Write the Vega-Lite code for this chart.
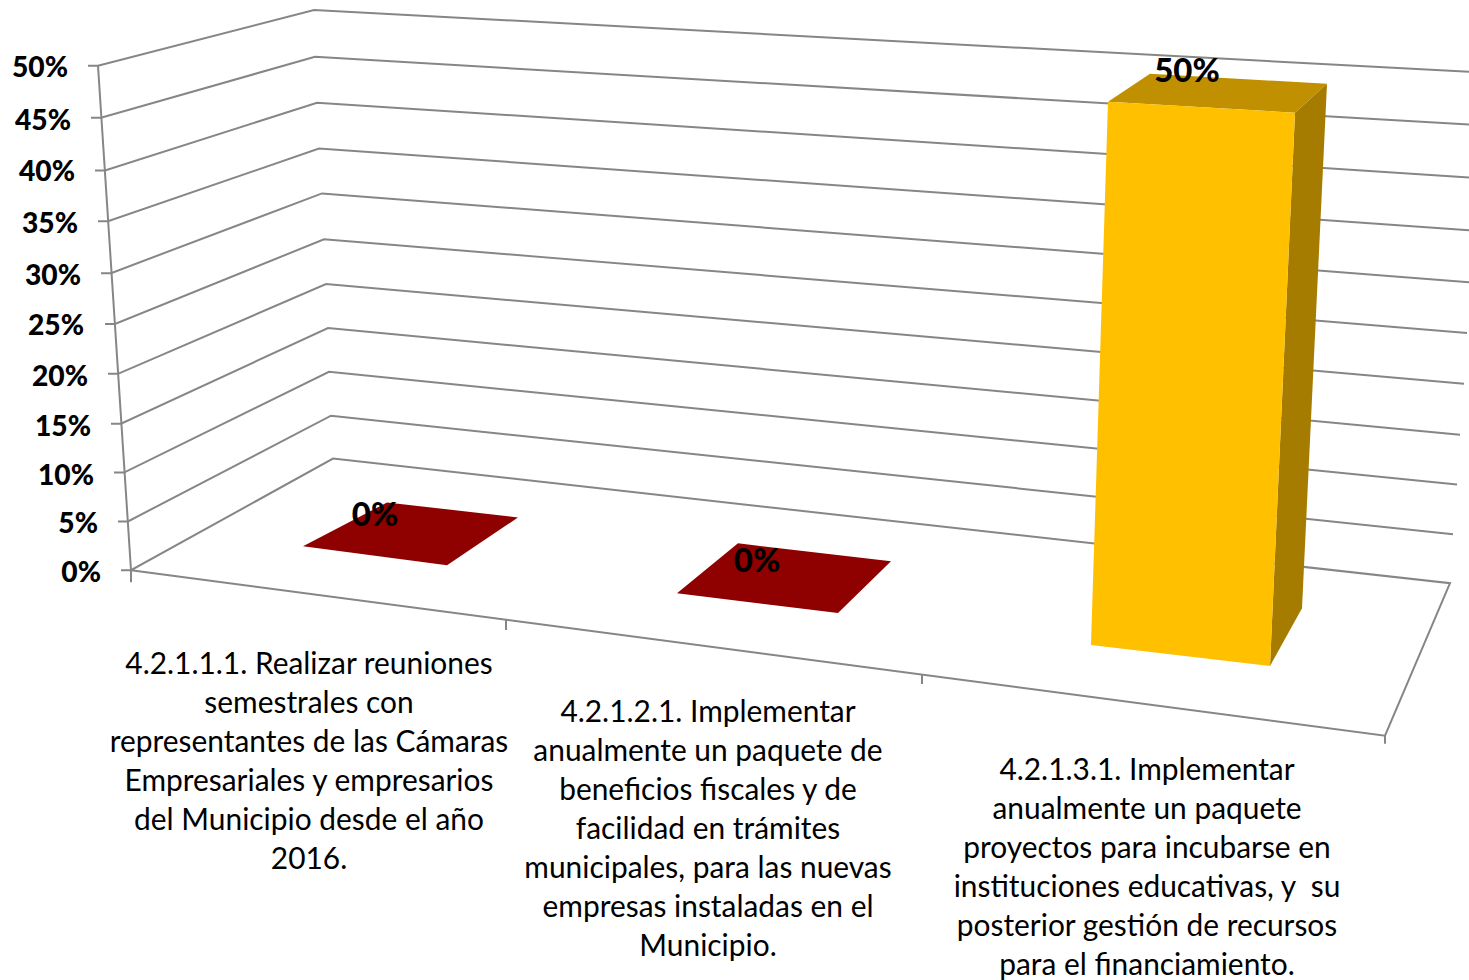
{"$schema":"https://vega.github.io/schema/vega-lite/v6.json","autosize":{"type":"fit","contains":"padding"},"padding":0,"width":1469,"height":980,"background":"white","config":{"view":{"stroke":null}},
"datasets":{
"edges":[
{"id":"g50","seq":0,"sx":88,"sy":66},{"id":"g50","seq":1,"sx":98,"sy":66},{"id":"g50","seq":2,"sx":314,"sy":10},{"id":"g50","seq":3,"sx":1469,"sy":72},
{"id":"g45","seq":0,"sx":91,"sy":118},{"id":"g45","seq":1,"sx":101,"sy":118},{"id":"g45","seq":2,"sx":315,"sy":57},{"id":"g45","seq":3,"sx":1469,"sy":125},
{"id":"g40","seq":0,"sx":95,"sy":171},{"id":"g40","seq":1,"sx":105,"sy":171},{"id":"g40","seq":2,"sx":317,"sy":103},{"id":"g40","seq":3,"sx":1469,"sy":178},
{"id":"g35","seq":0,"sx":98,"sy":222},{"id":"g35","seq":1,"sx":108,"sy":222},{"id":"g35","seq":2,"sx":319,"sy":149},{"id":"g35","seq":3,"sx":1469,"sy":231},
{"id":"g30","seq":0,"sx":101,"sy":274},{"id":"g30","seq":1,"sx":111,"sy":274},{"id":"g30","seq":2,"sx":322,"sy":194},{"id":"g30","seq":3,"sx":1469,"sy":283},
{"id":"g25","seq":0,"sx":105,"sy":325},{"id":"g25","seq":1,"sx":115,"sy":325},{"id":"g25","seq":2,"sx":324,"sy":240},{"id":"g25","seq":3,"sx":1467,"sy":334},
{"id":"g20","seq":0,"sx":108,"sy":375},{"id":"g20","seq":1,"sx":118,"sy":375},{"id":"g20","seq":2,"sx":326,"sy":285},{"id":"g20","seq":3,"sx":1464,"sy":385},
{"id":"g15","seq":0,"sx":111,"sy":425},{"id":"g15","seq":1,"sx":121,"sy":425},{"id":"g15","seq":2,"sx":328,"sy":329},{"id":"g15","seq":3,"sx":1460,"sy":436},
{"id":"g10","seq":0,"sx":114,"sy":474},{"id":"g10","seq":1,"sx":124,"sy":474},{"id":"g10","seq":2,"sx":329,"sy":373},{"id":"g10","seq":3,"sx":1457,"sy":486},
{"id":"g05","seq":0,"sx":118,"sy":523},{"id":"g05","seq":1,"sx":128,"sy":523},{"id":"g05","seq":2,"sx":331,"sy":417},{"id":"g05","seq":3,"sx":1453,"sy":536},
{"id":"g00","seq":0,"sx":121,"sy":572},{"id":"g00","seq":1,"sx":131,"sy":572},{"id":"g00","seq":2,"sx":333,"sy":460},{"id":"g00","seq":3,"sx":1450,"sy":585},{"id":"g00","seq":4,"sx":1385,"sy":738},{"id":"g00","seq":5,"sx":131,"sy":572},
{"id":"axis","seq":0,"sx":98,"sy":66},{"id":"axis","seq":1,"sx":131,"sy":572},{"id":"axis","seq":2,"sx":131,"sy":584},
{"id":"t1","seq":0,"sx":506,"sy":622},{"id":"t1","seq":1,"sx":506,"sy":632},
{"id":"t2","seq":0,"sx":922,"sy":676},{"id":"t2","seq":1,"sx":922,"sy":686},
{"id":"t3","seq":0,"sx":1385,"sy":738},{"id":"t3","seq":1,"sx":1385,"sy":746}
],
"faces":[
{"face":"zero1","part":"zero","seq":0,"sx":303,"sy":548},{"face":"zero1","part":"zero","seq":1,"sx":447,"sy":567},{"face":"zero1","part":"zero","seq":2,"sx":518,"sy":519},{"face":"zero1","part":"zero","seq":3,"sx":387,"sy":504},
{"face":"zero2","part":"zero","seq":0,"sx":677,"sy":595},{"face":"zero2","part":"zero","seq":1,"sx":838,"sy":615},{"face":"zero2","part":"zero","seq":2,"sx":891,"sy":563},{"face":"zero2","part":"zero","seq":3,"sx":738,"sy":545},
{"face":"top","part":"top","seq":0,"sx":1108,"sy":102},{"face":"top","part":"top","seq":1,"sx":1295,"sy":113},{"face":"top","part":"top","seq":2,"sx":1327,"sy":84},{"face":"top","part":"top","seq":3,"sx":1150,"sy":74},
{"face":"side","part":"side","seq":0,"sx":1295,"sy":113},{"face":"side","part":"side","seq":1,"sx":1270,"sy":668},{"face":"side","part":"side","seq":2,"sx":1302,"sy":610},{"face":"side","part":"side","seq":3,"sx":1327,"sy":84},
{"face":"front","part":"front","seq":0,"sx":1108,"sy":102},{"face":"front","part":"front","seq":1,"sx":1295,"sy":113},{"face":"front","part":"front","seq":2,"sx":1270,"sy":668},{"face":"front","part":"front","seq":3,"sx":1091,"sy":647}
]},
"layer":[
{"data":{"name":"edges"},"mark":{"type":"line","stroke":"#868686","strokeWidth":2,"clip":true},"encoding":{"x":{"field":"sx","type":"quantitative","scale":{"domain":[0,1469],"nice":false,"zero":false},"axis":null},"y":{"field":"sy","type":"quantitative","scale":{"domain":[980,0],"nice":false,"zero":false},"axis":null},"detail":{"field":"id"},"order":{"field":"seq"}}},
{"data":{"name":"faces"},"mark":{"type":"line","filled":true,"interpolate":"linear-closed","strokeWidth":0},"encoding":{"x":{"field":"sx","type":"quantitative"},"y":{"field":"sy","type":"quantitative"},"detail":{"field":"face"},"order":{"field":"seq"},"color":{"field":"part","type":"nominal","legend":null,"scale":{"domain":["zero","top","side","front"],"range":["#8F0000","#C09000","#A67C00","#FFC000"]}}}},
{"data":{"values":[
{"t":"50%","sx":68,"sy":69},{"t":"45%","sx":71,"sy":122},{"t":"40%","sx":75,"sy":174},{"t":"35%","sx":78,"sy":226},{"t":"30%","sx":81,"sy":278},{"t":"25%","sx":84,"sy":328},{"t":"20%","sx":88,"sy":379},{"t":"15%","sx":91,"sy":429},{"t":"10%","sx":94,"sy":478},{"t":"5%","sx":98,"sy":527},{"t":"0%","sx":101,"sy":576}]},
"mark":{"type":"text","font":"Lato","fontWeight":900,"fontSize":28.2,"align":"right","baseline":"middle","fill":"#000"},"encoding":{"x":{"field":"sx","type":"quantitative"},"y":{"field":"sy","type":"quantitative"},"text":{"field":"t"}}},
{"data":{"values":[{"t":"0%","sx":375,"sy":518},{"t":"0%","sx":757,"sy":564},{"t":"50%","sx":1187,"sy":72}]},
"mark":{"type":"text","font":"Lato","fontWeight":900,"fontSize":33,"align":"center","baseline":"middle","fill":"#000"},"encoding":{"x":{"field":"sx","type":"quantitative"},"y":{"field":"sy","type":"quantitative"},"text":{"field":"t"}}},
{"data":{"values":[
{"t":"4.2.1.1.1. Realizar reuniones\nsemestrales con\nrepresentantes de las Cámaras\nEmpresariales y empresarios\ndel Municipio desde el año\n2016.","sx":309,"sy":652},
{"t":"4.2.1.2.1. Implementar\nanualmente un paquete de\nbeneficios fiscales y de\nfacilidad en trámites\nmunicipales, para las nuevas\nempresas instaladas en el\nMunicipio.","sx":708,"sy":700},
{"t":"4.2.1.3.1. Implementar\nanualmente un paquete\nproyectos para incubarse en\ninstituciones educativas, y\u00a0 su\nposterior gestión de recursos\npara el financiamiento.","sx":1147,"sy":758}]},
"mark":{"type":"text","font":"Lato","fontSize":29.9,"align":"center","baseline":"top","lineBreak":"\n","lineHeight":39,"fill":"#000"},"encoding":{"x":{"field":"sx","type":"quantitative"},"y":{"field":"sy","type":"quantitative"},"text":{"field":"t"}}}
]}
